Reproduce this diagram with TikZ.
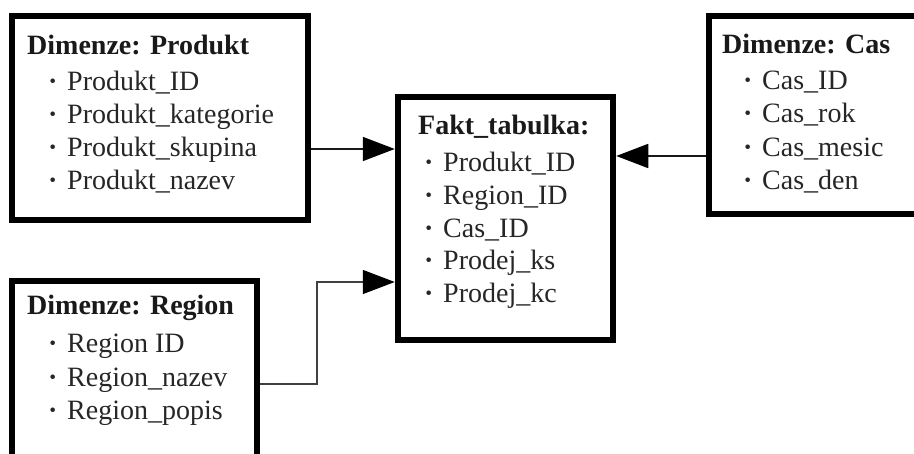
\documentclass[tikz,border=0pt]{standalone}
\usepackage{fontspec}
\setmainfont{Liberation Serif}
\usetikzlibrary{arrows.meta}
\newcommand\itm[1]{\makebox[19pt][l]{\textbf{·}}#1}
\tikzset{
  tbl/.style={draw=black, line width=6.5pt, line join=miter, fill=white, inner sep=0pt},
  ttl/.style={anchor=base west, inner sep=0pt, font=\fontsize{28}{33}\selectfont\bfseries, text=black!90},
  entry/.style={anchor=base west, inner sep=0pt, font=\fontsize{28}{33}\selectfont, text=black!85},
  arr/.style={draw=black!90, line width=1.8pt, -{Triangle[length=32pt,width=24pt,color=black]}},
  arrthin/.style={draw=black!75, line width=1.5pt, -{Triangle[length=32pt,width=24pt,color=black]}}
}
\begin{document}
\begin{tikzpicture}[x=1pt,y=1pt]
\useasboundingbox[fill=white] (0,0) rectangle (914,454);

% table boxes
\node[tbl, minimum width=296pt, minimum height=204pt] (prod) at (160,336) {};
\node[tbl, minimum width=215pt, minimum height=243pt] (fakt) at (505.5,235.5) {};
\node[tbl, minimum width=216pt, minimum height=198pt] (cas) at (817,339) {};
\node[tbl, minimum width=245pt, minimum height=189pt] (reg) at (134.5,78.5) {};

% Dimenze: Produkt
\node[ttl] (prodT) at (27,399) {Dimenze: Produkt};
\node[entry] (prod1) at (48,363) {\itm{Produkt\_ID}};
\node[entry] (prod2) at (48,330) {\itm{Produkt\_kategorie}};
\node[entry] (prod3) at (48,297) {\itm{Produkt\_skupina}};
\node[entry] (prod4) at (48,264) {\itm{Produkt\_nazev}};

% Fakt_tabulka
\node[ttl] (faktT) at (418,319) {Fakt\_tabulka:};
\node[entry] (fakt1) at (424,282) {\itm{Produkt\_ID}};
\node[entry] (fakt2) at (424,249) {\itm{Region\_ID}};
\node[entry] (fakt3) at (424,216) {\itm{Cas\_ID}};
\node[entry] (fakt4) at (424,184) {\itm{Prodej\_ks}};
\node[entry] (fakt5) at (424,151) {\itm{Prodej\_kc}};

% Dimenze: Cas
\node[ttl] (casT) at (722,400) {Dimenze: Cas};
\node[entry] (cas1) at (743,364) {\itm{Cas\_ID}};
\node[entry] (cas2) at (743,331) {\itm{Cas\_rok}};
\node[entry] (cas3) at (743,297) {\itm{Cas\_mesic}};
\node[entry] (cas4) at (743,264) {\itm{Cas\_den}};

% Dimenze: Region
\node[ttl] (regT) at (27,139) {Dimenze: Region};
\node[entry] (reg1) at (48,101) {\itm{Region ID}};
\node[entry] (reg2) at (48,67) {\itm{Region\_nazev}};
\node[entry] (reg3) at (48,34) {\itm{Region\_popis}};

% connectors
\coordinate (bend) at (317,70);
\draw[arr] (prod.east |- 0,305) -- (fakt.west |- 0,305);
\draw[arr] (cas.west |- 0,298) -- (fakt.east |- 0,298);
\draw[arrthin] (reg.east |- bend) -- (bend) |- (fakt.west |- 0,172);
\end{tikzpicture}
\end{document}
